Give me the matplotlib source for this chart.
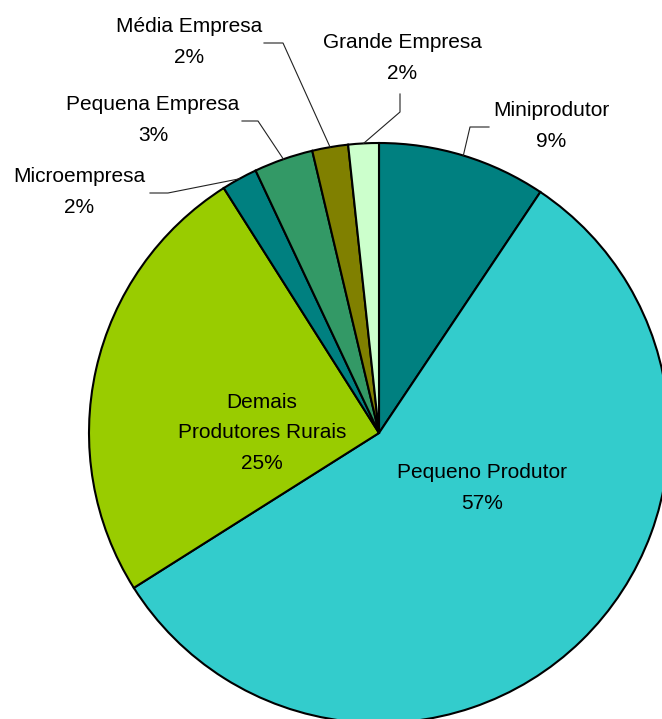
import numpy as np
import matplotlib
matplotlib.use("Agg")
import matplotlib.pyplot as plt

plt.rcParams['font.family'] = ['Liberation Sans', 'DejaVu Sans']

# dados (fatias no sentido horário a partir do topo)
categorias = ['Miniprodutor', 'Pequeno Produtor', 'Demais\nProdutores Rurais',
              'Microempresa', 'Pequena Empresa', 'Média Empresa', 'Grande Empresa']
valores = [9.4, 56.7, 25.0, 2.0, 3.3, 2.0, 1.7]
cores = ['#008080', '#33CCCC', '#99CC00', '#008080', '#339966', '#808000', '#CCFFCC']

W, H = 662, 719
fig = plt.figure(figsize=(W / 100, H / 100), dpi=100)
ax = fig.add_axes([0, 0, 1, 1])

# coordenadas em pixels (y para baixo) -> dados
def px(x, y):
    return x, H - y

cx, cy = px(379, 433)
raio = 290
wedges, _ = ax.pie(valores, colors=cores, startangle=90, counterclock=False,
                   center=(cx, cy), radius=raio,
                   wedgeprops=dict(edgecolor='black', linewidth=1.5))
ax.set_xlim(0, W)
ax.set_ylim(0, H)
ax.set_aspect('equal')
ax.axis('off')

total = sum(valores)
pcts = ['%d%%' % round(v / total * 100) for v in valores]

# rótulos dentro das fatias grandes
internos = {1: (482, 488), 2: (262, 433)}
for i, (x, y) in internos.items():
    ax.text(*px(x, y), categorias[i] + '\n' + pcts[i], ha='center', va='center',
            fontsize=15, linespacing=1.75)

# rótulos externos com linhas de chamada: (centro do texto, pontos da linha)
externos = {
    0: ((551, 126), [(489, 127), (470, 127)]),
    6: ((402, 58), [(400, 94), (400, 112)]),
    5: ((189, 42), [(264, 43), (283, 43)]),
    4: ((153, 120), [(242, 121), (258, 121)]),
    3: ((79, 192), [(150, 193), (168, 193)]),
}
for i, (pos, pts) in externos.items():
    ax.text(*px(*pos), categorias[i] + '\n' + pcts[i], ha='center', va='center',
            fontsize=15, linespacing=1.75)
    w = wedges[i]
    ang = np.deg2rad((w.theta1 + w.theta2) / 2)
    borda = (cx + raio * np.cos(ang), cy + raio * np.sin(ang))
    xs = [px(*p)[0] for p in pts] + [borda[0]]
    ys = [px(*p)[1] for p in pts] + [borda[1]]
    ax.plot(xs, ys, color='#222222', linewidth=0.8)

fig.savefig('out.png', dpi=100)
